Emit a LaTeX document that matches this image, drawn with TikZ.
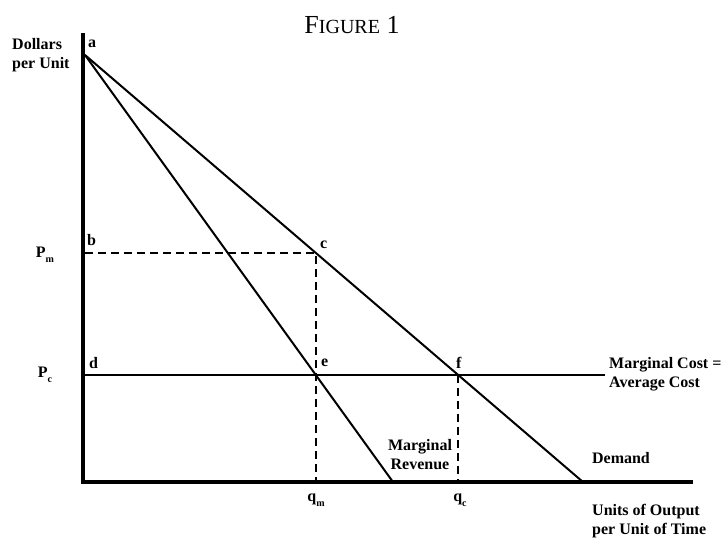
\documentclass[tikz,border=0pt]{standalone}
\usepackage{fontspec}
\setmainfont{Liberation Serif}
\newcommand{\lowsub}[1]{\raisebox{-5pt}{\fontsize{10}{10}\selectfont #1}}
\begin{document}
\begin{tikzpicture}[x=1pt,y=-1pt,
  every node/.style={font=\fontsize{16}{19}\selectfont\bfseries,inner sep=0pt},
  axisline/.style={line width=4pt,line join=miter},
  curve/.style={line width=2pt},
  guide/.style={line width=2pt,dash pattern=on 8pt off 5pt}]
\useasboundingbox (0,0) rectangle (726,539);
% title
\node[font=\fontsize{26}{28}\selectfont] (title) at (352,25) {F{\fontsize{20}{20}\selectfont IGURE} 1};
% key points
\coordinate (top) at (83,33); \coordinate (o) at (83,482); \coordinate (xend) at (693,482);
\coordinate (a) at (85,55); \coordinate (b) at (85,253); \coordinate (c) at (316,253);
\coordinate (d) at (85,375); \coordinate (e) at (316,375); \coordinate (f) at (458,375);
\coordinate (mcend) at (605,375); \coordinate (qm) at (316,482); \coordinate (qc) at (458,482);
\coordinate (dend) at (583,482); \coordinate (mrend) at (393,482);
% axes
\draw[axisline] (top) -- (o) -- (xend);
% demand, marginal revenue, marginal cost
\draw[curve] (a) -- (dend);
\draw[curve] (a) -- (mrend);
\draw[curve] (d) -- (mcend);
% dashed guides
\draw[guide] (b) -- (c) -- (qm);
\draw[guide] (f) -- (qc);
% point labels
\node[anchor=west] (la) at (88,44) {a};
\node[anchor=west] (lb) at (87,240) {b};
\node[anchor=west] (lc) at (320,245) {c};
\node[anchor=west] (ld) at (89,363) {d};
\node[anchor=west] (le) at (321,363) {e};
\node[anchor=west] (lf) at (456,363) {f};
% axis labels
\node[anchor=west,align=left] (yl) at (12,55) {Dollars\\per Unit};
\node (pm) at (45,255) {P\lowsub{m}};
\node (pc) at (45,375) {P\lowsub{c}};
\node (qml) at (316,500) {q\lowsub{m}};
\node (qcl) at (460,500) {q\lowsub{c}};
\node[anchor=west,align=left] (xl) at (592,521) {Units of Output\\per Unit of Time};
% curve labels
\node[align=center] (mrl) at (420,455) {Marginal\\Revenue};
\node (dl) at (621,458) {Demand};
\node[anchor=west,align=left] (mcl) at (609,374) {Marginal Cost =\\Average Cost};
\end{tikzpicture}
\end{document}
